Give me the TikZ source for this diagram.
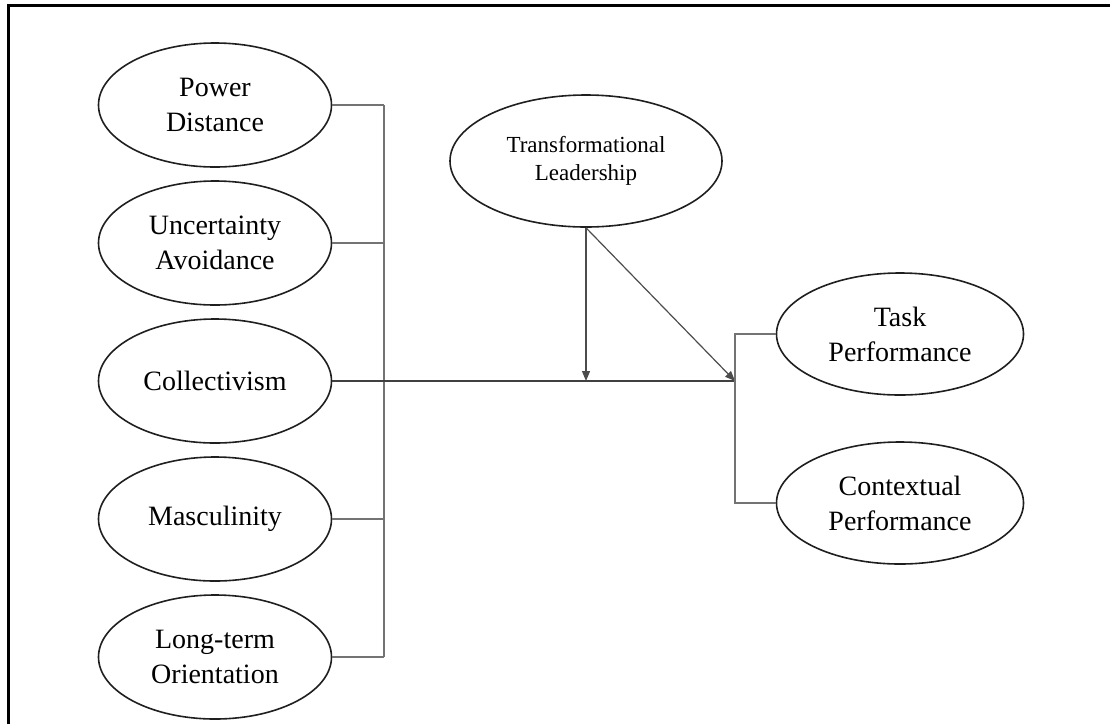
\documentclass[tikz,border=0pt]{standalone}
\usepackage{fontspec}
\setmainfont{Liberation Serif}
\usetikzlibrary{shapes.geometric,arrows.meta}
\begin{document}
\begin{tikzpicture}[x=1pt,y=-1pt,
  construct/.style={ellipse,draw=black!88,line width=1.6pt,inner sep=0pt,
    minimum width=233pt,minimum height=124pt,align=center,
    font=\fontsize{28}{35}\selectfont},
  small/.style={ellipse,draw=black!88,line width=1.6pt,inner sep=0pt,
    minimum width=272pt,minimum height=132pt,align=center,
    font=\fontsize{23}{28}\selectfont},
  outcome/.style={ellipse,draw=black!88,line width=1.6pt,inner sep=0pt,
    minimum width=247pt,minimum height=122pt,align=center,
    font=\fontsize{28}{35}\selectfont},
  conn/.style={draw=black!55,line width=1.3pt},
  mainline/.style={draw=black!75,line width=1.3pt},
  arr/.style={draw=black!70,line width=1.2pt,-{Triangle[length=10pt,width=8pt]}}]
\useasboundingbox (0,0) rectangle (1110,724);
% frame (top and left edges visible)
\draw[line width=2.6pt] (1110,5.5) -- (8.5,5.5) -- (8.5,724);

\node[construct] (pd) at (215,105) {Power\\Distance};
\node[construct] (ua) at (215,243) {Uncertainty\\Avoidance};
\node[construct] (co) at (215,381) {Collectivism};
\node[construct] (ma) at (215,519) {Masculinity};
\node[construct] (lo) at (215,657) {Long-term\\Orientation};

\node[small] (tl) at (586,161) {Transformational\\Leadership};

\node[outcome] (tp) at (900,334) {Task\\Performance};
\node[outcome] (cp) at (900,503) {Contextual\\Performance};

\coordinate (bar) at (384,381);
\coordinate (jr) at (735,381);

% left bracket
\draw[conn] (pd.east) -- (pd.east -| bar);
\draw[conn] (ua.east) -- (ua.east -| bar);
\draw[conn] (ma.east) -- (ma.east -| bar);
\draw[conn] (lo.east) -- (lo.east -| bar);
\draw[conn] (pd.east -| bar) -- (lo.east -| bar);

% main path
\draw[mainline] (co.east) -- (jr);

% moderator arrows
\draw[arr] (tl.south) -- (tl.south |- co.east);
\draw[arr] (tl.south) -- (jr);

% right bracket
\draw[conn] (tp.west) -- (tp.west -| jr) -- (cp.west -| jr) -- (cp.west);
\end{tikzpicture}
\end{document}
